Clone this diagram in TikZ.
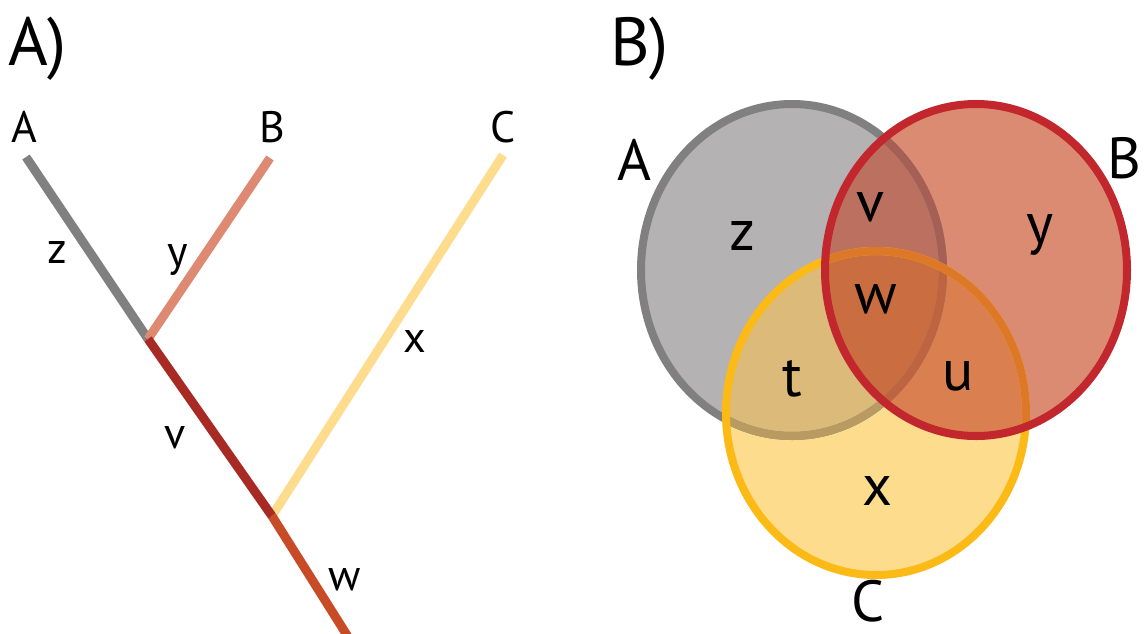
\documentclass[tikz,border=0pt]{standalone}
\usepackage{fontspec}
\setmainfont{PT Sans}
\definecolor{cgrayfill}{HTML}{B4B2B3}
\definecolor{credfill}{HTML}{DC8B73}
\definecolor{cyelfill}{HTML}{FDDC8E}
\definecolor{cvfill}{HTML}{BC7060}
\definecolor{ctfill}{HTML}{DBBA7A}
\definecolor{cufill}{HTML}{DA7F50}
\definecolor{cwfill}{HTML}{CA6E42}
\definecolor{cgraystroke}{HTML}{808080}
\definecolor{cringAB}{HTML}{A55F55}
\definecolor{cringAC}{HTML}{B99B62}
\definecolor{cringABC}{HTML}{BE6440}
\definecolor{cyelstroke}{HTML}{FBBA16}
\definecolor{cyelinB}{HTML}{DD7828}
\definecolor{credstroke}{HTML}{C1272D}
\definecolor{cpink}{HTML}{DE8A72}
\definecolor{cdarkred}{HTML}{A82A24}
\definecolor{corange}{HTML}{C84B28}
\begin{document}
\begin{tikzpicture}[x=1pt,y=-1pt,
  branch/.style={line width=9pt},
  ring/.style={line width=8pt},
  lbl/.style={inner sep=0pt,anchor=base,text=black},
  panel/.style={lbl,anchor=base west,font=\fontsize{68}{70}\selectfont},
  treelbl/.style={lbl,font=\fontsize{44}{46}\selectfont},
  vennlbl/.style={lbl,font=\fontsize{58}{60}\selectfont}]
\useasboundingbox (0,0) rectangle (1146,633);
\fill[white] (0,0) rectangle (1146,633);
% panel labels
\node[panel] (pA) at (8,65) {A)};
\node[panel] (pB) at (610,65) {B)};
% ---------- tree ----------
\coordinate (tA) at (26,157);
\coordinate (tB) at (270,158);
\coordinate (tC) at (503,155);
\coordinate (j1) at (148,339);
\coordinate (j2) at (272,516);
\coordinate (root) at (350,640);
\draw[branch,cgraystroke] (tA) -- (j1);
\draw[branch,cpink] (tB) -- (j1);
\draw[branch,cyelfill] (tC) -- (j2);
\draw[branch,cdarkred] (j1) -- (j2);
\draw[branch,corange] (j2) -- (root);
\node[treelbl] (lA) at (24,142) {A};
\node[treelbl] (lB) at (272,142) {B};
\node[treelbl] (lC) at (503,142) {C};
\node[treelbl] (lz) at (57,263) {z};
\node[treelbl] (ly) at (178,266) {y};
\node[treelbl] (lv) at (175,448) {v};
\node[treelbl] (lx) at (415,352) {x};
\node[treelbl] (lw) at (345,590) {w};
% ---------- venn ----------
\def\ellA{(792,270) ellipse [x radius=151pt, y radius=166pt]}
\def\ellB{(976,270) ellipse [x radius=151pt, y radius=166pt]}
\def\ellC{(876,413) ellipse [x radius=150pt, y radius=162pt]}
\fill[cgrayfill] \ellA;
\fill[credfill] \ellB;
\fill[cyelfill] \ellC;
\begin{scope}\clip \ellA; \fill[cvfill] \ellB; \end{scope}
\begin{scope}\clip \ellA; \fill[ctfill] \ellC; \end{scope}
\begin{scope}\clip \ellB; \fill[cufill] \ellC; \end{scope}
\begin{scope}\clip \ellA; \clip \ellB; \fill[cwfill] \ellC; \end{scope}
% ring A
\draw[ring,cgraystroke] \ellA;
\begin{scope}\clip \ellC; \draw[ring,cringAC] \ellA; \end{scope}
\begin{scope}\clip \ellB; \draw[ring,cringAB] \ellA; \end{scope}
\begin{scope}\clip \ellB; \clip \ellC; \draw[ring,cringABC] \ellA; \end{scope}
% ring C
\draw[ring,cyelstroke] \ellC;
\begin{scope}\clip \ellB; \draw[ring,cyelinB] \ellC; \end{scope}
% ring B
\draw[ring,credstroke] \ellB;
% labels
\node[vennlbl] (vA) at (634,180) {A};
\node[vennlbl] (vB) at (1124,178) {B};
\node[vennlbl] (vC) at (868,621) {C};
\node[vennlbl] (vz) at (742,250) {z};
\node[vennlbl] (vv) at (870,221) {v};
\node[vennlbl] (vy) at (1040,243) {y};
\node[vennlbl] (vw) at (876,313) {w};
\node[vennlbl] (vt) at (792,396) {t};
\node[vennlbl] (vu) at (958,390) {u};
\node[vennlbl] (vx) at (877,505) {x};
\end{tikzpicture}
\end{document}
